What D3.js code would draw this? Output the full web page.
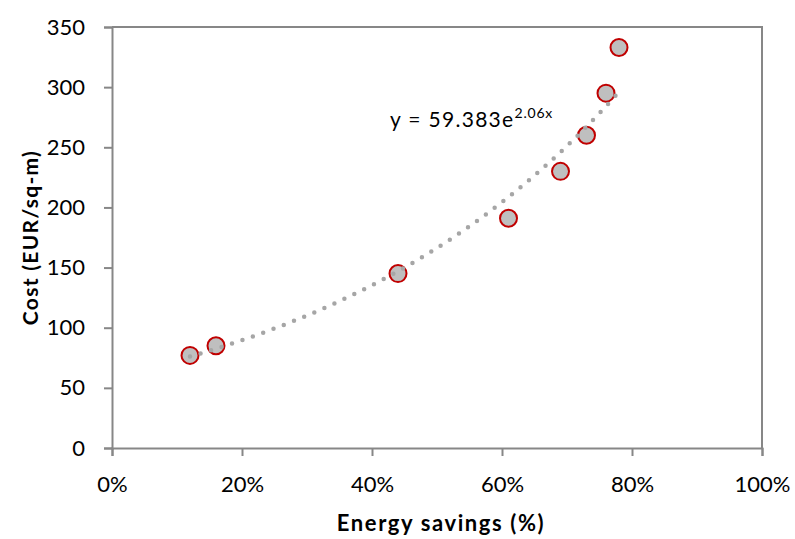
<!DOCTYPE html>
<html>
<head>
<meta charset="utf-8">
<script src="https://cdn.jsdelivr.net/npm/d3@7"></script>
<style>
  html, body { margin: 0; padding: 0; background: #fff; }
  svg { display: block; }
  text { font-family: Lato, "Open Sans", sans-serif; fill: #000; }
</style>
</head>
<body>
<svg id="chart" width="795" height="539"></svg>
<script>
// Energy savings (fraction) and cost per square metre for each option
const savings = [0.12, 0.16, 0.44, 0.61, 0.69, 0.73, 0.76, 0.78];
const costs   = [77, 85, 145, 191, 230, 260, 295, 333];

// Exponential trendline y = a * e^(b x), coefficients as printed on the chart
const trendA = 59.383;
const trendB = 2.06;

const xTicks = [0, 0.2, 0.4, 0.6, 0.8, 1.0];
const yTicks = [0, 50, 100, 150, 200, 250, 300, 350];

const svg = d3.select("#chart");
const margin = { left: 112, right: 33, top: 27, bottom: 91 };
const W = 795, H = 539;

const x = d3.scaleLinear().domain([0, 1]).range([margin.left, W - margin.right]);
const y = d3.scaleLinear().domain([0, 350]).range([H - margin.bottom, margin.top]);

const axisColor = "#878787";

// Plot-area frame (top and right edges)
svg.append("path")
  .attr("d", `M${x(0)},${y(350)}H${x(1)}V${y(0)}`)
  .attr("fill", "none").attr("stroke", axisColor).attr("stroke-width", 2);

// Y axis
const yAxis = svg.append("g")
  .attr("transform", `translate(${x(0)},0)`)
  .call(d3.axisLeft(y).tickValues(yTicks).tickSize(8).tickPadding(19));
// X axis
const xAxis = svg.append("g")
  .attr("transform", `translate(0,${y(0)})`)
  .call(d3.axisBottom(x).tickValues(xTicks).tickSize(8).tickPadding(20)
    .tickFormat(d3.format(".0%")));

[yAxis, xAxis].forEach(g => {
  g.select(".domain").attr("stroke", axisColor).attr("stroke-width", 2);
  g.selectAll(".tick line").attr("stroke", axisColor).attr("stroke-width", 2);
  g.selectAll(".tick text")
    .attr("font-family", "Lato, 'Open Sans', sans-serif")
    .attr("font-size", 22).attr("fill", "#000");
});

// Data markers
svg.append("g").selectAll("circle")
  .data(savings.map((s, i) => [s, costs[i]]))
  .join("circle")
  .attr("cx", d => x(d[0]))
  .attr("cy", d => y(d[1]))
  .attr("r", 8.5)
  .attr("fill", "#bfbfbf")
  .attr("stroke", "#c00000")
  .attr("stroke-width", 2);

// Dotted trendline over the data range
const xMin = d3.min(savings), xMax = d3.max(savings);
const trendPts = d3.range(0, 201).map(i => {
  const t = xMin + (xMax - xMin) * i / 200;
  return [t, trendA * Math.exp(trendB * t)];
});
svg.append("path")
  .datum(trendPts)
  .attr("d", d3.line().x(d => x(d[0])).y(d => y(d[1])))
  .attr("fill", "none")
  .attr("stroke", "#a6a6a6")
  .attr("stroke-width", 4.5)
  .attr("stroke-linecap", "round")
  .attr("stroke-dasharray", "0 11");

// Trendline equation
const eq = svg.append("text")
  .attr("x", 390).attr("y", 127)
  .attr("font-size", 21)
  .attr("letter-spacing", 1.3);
eq.append("tspan").text("y = 59.383e");
eq.append("tspan").attr("dy", -9).attr("font-size", 14).attr("letter-spacing", 0.8).text("2.06x");

// Axis titles
svg.append("text")
  .attr("x", x(0.5) + 4).attr("y", 531)
  .attr("text-anchor", "middle")
  .attr("font-size", 22).attr("font-weight", "bold")
  .attr("letter-spacing", 1.6)
  .text("Energy savings (%)");

svg.append("text")
  .attr("transform", `translate(38,${(y(0) + y(350)) / 2}) rotate(-90)`)
  .attr("text-anchor", "middle")
  .attr("font-size", 21).attr("font-weight", "bold")
  .attr("letter-spacing", 1.3)
  .text("Cost (EUR/sq-m)");
</script>
</body>
</html>
